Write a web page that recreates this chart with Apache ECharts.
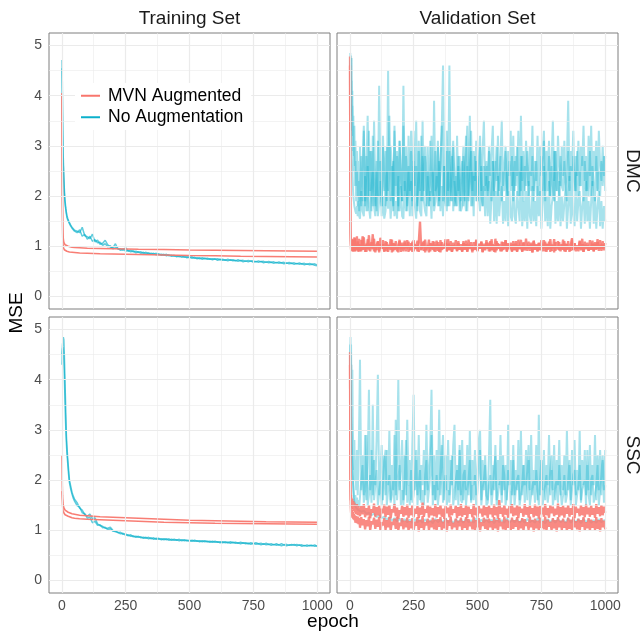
<!DOCTYPE html>
<html><head><meta charset="utf-8">
<script src="https://cdn.jsdelivr.net/npm/echarts@6/dist/echarts.min.js"></script>
<style>html,body{margin:0;padding:0;background:#fff}#c{width:643px;height:634px}</style>
</head><body><div id="c"></div>
<script>
// ---------- tick labels ----------
const X_TICKS = [0, 250, 500, 750, 1000];
const X_MINOR = [125, 375, 625, 875];
const Y_TICKS = [0, 1, 2, 3, 4, 5];
const Y_MINOR = [0.5, 1.5, 2.5, 3.5, 4.5];
const COL_TITLES = ['Training Set', 'Validation Set'];
const ROW_TITLES = ['DMC', 'SSC'];
const GROUPS = ['MVN Augmented', 'No Augmentation'];

// ---------- epochs (x values) ----------
function epochsFrom(head, start, step, end) { const a = head.slice(); for (let e = start; e <= end; e += step) a.push(e); return a; }
const EPOCH_TRAIN_SMOOTH = [1,2,3,4,5,6,8,10,13,16,20,25,30,40,50,70,100,150,200,300,400,500,600,700,800,900,1000];
const EPOCH_TRAIN = epochsFrom([1,2,3,4,5,6,8,10,12,14,16,18,20,23,26,30,35,40,45,50], 60, 10, 1000);
const EPOCH_VAL = epochsFrom([1,2,3,4,5,6,7,8,10,12,14,16,18,20,22,25,28,31,34,37], 40, 5, 1000);

// ---------- Training / DMC ----------
const TRAIN_DMC_MVN_1 = [4.05,2.6,1.8,1.45,1.25,1.15,1.08,1.05,1.03,1.02,1.01,1.0,0.99,0.98,0.975,0.97,0.96,0.955,0.95,0.94,0.935,0.925,0.92,0.915,0.91,0.905,0.90];
const TRAIN_DMC_MVN_2 = [4.05,2.0,1.4,1.15,1.04,0.98,0.95,0.93,0.915,0.905,0.90,0.89,0.885,0.88,0.875,0.865,0.86,0.85,0.845,0.835,0.825,0.815,0.81,0.80,0.795,0.79,0.785];
const TRAIN_DMC_NONE_1 = [4.71,4.3,3.7,3.3,3.0,2.75,2.4,2.15,1.95,1.85,1.75,1.68,1.62,1.56,1.52,1.47,1.42,1.38,1.40,1.32,
1.30,1.27,1.38,1.21,1.19,1.15,1.24,1.09,1.12,1.04,
1.06,1.12,1.03,0.98,0.97,1.05,0.94,0.95,0.92,0.97,
0.90,0.92,0.89,0.90,0.88,0.89,0.86,0.88,0.85,0.86,
0.84,0.86,0.83,0.84,0.82,0.84,0.81,0.82,0.80,0.81,
0.79,0.81,0.78,0.79,0.77,0.79,0.76,0.77,0.75,0.77,
0.75,0.76,0.74,0.75,0.74,0.75,0.73,0.74,0.72,0.74,
0.72,0.73,0.71,0.73,0.71,0.72,0.70,0.72,0.70,0.71,
0.69,0.71,0.69,0.70,0.68,0.70,0.68,0.69,0.67,0.69,
0.67,0.68,0.66,0.68,0.66,0.67,0.65,0.67,0.65,0.66,
0.64,0.66,0.64,0.65,0.63];
const TRAIN_DMC_NONE_2 = [4.55,4.1,3.5,3.1,2.8,2.6,2.3,2.05,1.9,1.8,1.72,1.64,1.58,1.53,1.50,1.45,1.40,1.36,1.34,1.30,
1.27,1.33,1.20,1.24,1.14,1.20,1.10,1.13,1.07,1.08,
1.02,1.05,0.99,1.01,0.95,0.97,0.96,0.92,0.95,0.90,
0.92,0.89,0.91,0.87,0.89,0.86,0.88,0.85,0.87,0.84,
0.86,0.83,0.85,0.82,0.84,0.81,0.83,0.80,0.82,0.79,
0.81,0.78,0.80,0.77,0.79,0.76,0.78,0.75,0.77,0.74,
0.76,0.74,0.75,0.73,0.75,0.72,0.74,0.72,0.73,0.71,
0.73,0.71,0.72,0.70,0.72,0.69,0.71,0.69,0.71,0.68,
0.70,0.68,0.70,0.67,0.69,0.67,0.68,0.66,0.68,0.66,
0.67,0.65,0.67,0.65,0.66,0.64,0.66,0.64,0.65,0.63,
0.65,0.63,0.64,0.62,0.61];

// ---------- Training / SSC ----------
const TRAIN_SSC_MVN_1 = [2.49,1.9,1.7,1.6,1.54,1.5,1.45,1.42,1.40,1.39,1.38,1.36,1.35,1.33,1.32,1.30,1.29,1.27,1.26,1.24,1.22,1.20,1.19,1.18,1.17,1.165,1.16];
const TRAIN_SSC_MVN_2 = [1.78,1.6,1.5,1.44,1.40,1.38,1.35,1.33,1.31,1.30,1.29,1.28,1.27,1.25,1.24,1.23,1.22,1.21,1.20,1.18,1.16,1.15,1.14,1.135,1.13,1.125,1.12];
const TRAIN_SSC_NONE_1 = [4.5,4.6,4.7,4.75,4.8,4.85,4.8,4.5,4.1,3.7,3.3,2.9,2.7,2.45,2.25,2.0,1.88,1.76,1.68,1.62,
1.55,1.44,1.40,1.31,1.28,1.32,1.23,1.25,1.13,1.09,
1.08,1.04,1.04,1.06,1.00,0.97,0.96,0.93,0.94,0.90,
0.91,0.88,0.89,0.86,0.88,0.85,0.86,0.84,0.86,0.83,
0.85,0.82,0.84,0.81,0.83,0.81,0.83,0.80,0.82,0.80,
0.82,0.79,0.81,0.79,0.80,0.78,0.80,0.78,0.79,0.77,
0.79,0.77,0.78,0.76,0.78,0.76,0.77,0.75,0.77,0.75,
0.77,0.75,0.76,0.74,0.76,0.74,0.75,0.73,0.75,0.73,
0.75,0.73,0.74,0.72,0.74,0.72,0.73,0.71,0.73,0.71,
0.73,0.71,0.72,0.70,0.72,0.70,0.72,0.70,0.71,0.69,
0.71,0.69,0.70,0.68,0.69];
const TRAIN_SSC_NONE_2 = [4.3,4.5,4.6,4.65,4.67,4.6,4.4,4.1,3.7,3.3,3.0,2.75,2.55,2.35,2.15,1.95,1.82,1.72,1.64,1.58,
1.49,1.46,1.35,1.33,1.24,1.26,1.15,1.18,1.10,1.11,
1.05,1.06,1.01,1.03,0.98,0.99,0.95,0.96,0.92,0.93,
0.89,0.91,0.87,0.88,0.86,0.87,0.84,0.86,0.83,0.85,
0.82,0.84,0.82,0.83,0.81,0.83,0.80,0.82,0.80,0.81,
0.79,0.81,0.79,0.80,0.78,0.80,0.78,0.79,0.77,0.79,
0.77,0.78,0.76,0.78,0.76,0.77,0.75,0.77,0.75,0.76,
0.74,0.76,0.74,0.75,0.73,0.75,0.73,0.74,0.72,0.74,
0.72,0.73,0.71,0.73,0.71,0.72,0.70,0.72,0.70,0.71,
0.69,0.71,0.69,0.71,0.70,0.72,0.69,0.71,0.68,0.70,
0.68,0.70,0.69,0.71,0.68];

// ---------- Validation / DMC (20 head values, then every 5 epochs from 40) ----------
const VAL_DMC_MVN_1 = [4.78,2.2,1.3,1.1,1.02,0.95,1.12,0.92,1.15,0.9,1.08,0.95,1.18,0.9,1.1,0.94,1.2,0.91,1.06,1.15,
0.9,1.12,0.93,1.18,0.89,1.05,0.95,1.22,0.9,1.08,0.94,1.15,0.88,1.02,1.1,0.91,1.17,0.95,1.04,0.89,
1.1,0.9,1.03,0.96,1.14,0.88,1.06,0.93,1.1,0.9,1.01,1.13,0.89,1.07,0.94,1.11,0.9,1.0,1.09,0.92,
1.06,0.89,1.12,0.95,1.02,0.9,1.08,1.5,0.92,1.04,1.1,0.88,1.0,0.96,1.13,0.9,1.05,0.93,1.09,0.89,
1.11,0.91,1.03,0.88,1.08,0.95,1.0,1.14,0.9,1.05,0.93,1.1,0.89,1.02,0.96,1.12,0.9,1.06,0.94,1.0,
0.89,1.1,0.93,1.04,0.9,1.13,0.95,1.01,0.88,1.08,0.94,1.11,0.91,1.03,0.96,1.09,0.89,1.05,0.92,1.12,
0.95,1.07,0.9,1.14,0.92,1.02,0.88,1.1,0.96,1.04,0.9,1.09,0.93,1.0,1.12,0.89,1.06,0.94,1.03,0.91,
1.1,0.92,1.05,0.89,1.13,0.95,1.01,0.9,1.08,0.94,1.15,0.91,1.02,0.96,1.07,0.88,1.11,0.93,1.04,0.9,
1.06,0.93,1.12,0.9,1.0,1.09,0.89,1.04,0.95,1.14,0.91,1.03,0.88,1.08,0.96,1.1,0.92,1.01,0.94,1.13,
0.9,1.05,0.93,1.1,0.89,1.02,1.16,0.92,1.06,0.95,1.0,0.9,1.11,0.94,1.04,0.89,1.09,0.96,1.02,0.91,
1.12,0.93,1.05,0.9,1.08,0.95,1.14,0.91,1.03,0.96,1.1,0.92,1.06];
const VAL_DMC_MVN_2 = [4.6,1.9,1.2,1.0,0.93,1.1,0.9,1.05,0.92,1.13,0.89,1.06,0.94,1.16,0.9,1.03,0.93,1.1,0.89,1.04,
1.06,0.9,1.2,0.94,1.02,0.89,1.14,0.92,1.05,0.96,1.24,0.9,1.01,0.93,1.09,0.88,1.04,0.95,1.12,0.91,
0.96,1.08,0.89,1.02,0.93,1.13,0.9,1.05,0.95,1.0,0.88,1.1,0.94,1.03,0.9,1.07,0.96,1.12,0.89,1.01,
0.93,1.09,0.9,1.04,0.95,1.11,0.89,1.0,0.94,1.07,0.91,1.13,0.92,1.02,0.88,1.06,0.95,1.1,0.9,1.03,
0.94,1.08,0.89,1.12,0.93,1.0,0.96,1.06,0.9,1.14,0.92,1.02,0.89,1.07,0.95,1.01,0.91,1.1,0.93,1.04,
0.9,1.06,0.94,1.11,0.89,1.03,0.96,1.08,0.91,1.0,0.93,1.13,0.9,1.05,0.95,1.09,0.88,1.02,0.94,1.07,
1.01,0.9,1.1,0.93,1.04,0.89,1.15,0.92,1.06,0.95,1.0,0.9,1.08,0.94,1.12,0.91,1.03,0.96,1.07,0.89,
1.04,0.93,1.1,0.9,1.02,0.95,1.13,0.89,1.06,0.92,1.0,0.96,1.09,0.91,1.04,0.88,1.11,0.94,1.02,0.9,
1.07,0.92,1.01,0.95,1.12,0.9,1.05,0.93,1.09,0.89,1.03,0.96,1.14,0.91,1.0,0.94,1.08,0.9,1.04,0.93,
1.1,0.89,1.04,0.95,1.0,0.91,1.13,0.93,1.06,0.9,1.02,0.96,1.09,0.92,1.15,0.89,1.03,0.94,1.07,0.91,
1.0,0.94,1.11,0.9,1.05,0.93,1.08,0.95,1.12,0.91,1.03,0.96,1.06];
const VAL_DMC_NONE_1 = [4.0,4.85,4.5,4.2,4.8,3.9,4.3,3.6,4.1,3.2,3.6,2.8,3.4,2.6,3.1,2.2,2.9,2.0,2.7,1.9,
3.0,1.8,2.6,3.4,1.9,2.8,1.7,3.3,2.1,2.9,1.8,3.5,2.2,1.7,3.1,2.0,2.7,1.8,3.2,2.3,
1.8,3.0,2.1,3.6,1.9,2.6,1.7,3.3,2.2,2.9,1.8,3.1,2.4,1.9,3.4,2.0,2.8,1.7,3.2,2.1,
2.9,1.8,3.3,2.0,2.6,1.7,3.1,2.3,1.9,3.5,2.1,2.8,1.8,3.0,2.2,1.9,3.2,2.4,1.8,2.9,
2.0,3.1,1.8,2.7,3.4,1.9,2.6,2.0,3.3,1.8,2.9,2.2,1.9,3.0,2.4,1.8,3.2,2.1,2.8,1.9,
2.5,3.0,1.9,2.8,3.4,2.0,2.6,3.3,2.1,2.9,2.3,3.1,1.9,2.7,3.2,2.1,2.9,3.5,2.2,2.6,
2.1,3.0,2.4,2.9,3.4,2.0,2.7,2.3,3.2,2.1,2.8,3.5,2.2,2.6,3.0,2.0,2.9,2.4,3.3,2.2,
3.2,2.1,2.8,2.4,3.3,2.0,3.6,2.3,2.9,2.1,3.1,2.5,2.2,3.0,2.4,3.4,2.1,2.7,2.3,3.2,
2.2,3.0,2.4,2.8,3.3,2.1,2.9,2.5,3.1,2.0,2.7,3.5,2.3,2.9,2.1,3.2,2.6,2.2,3.0,2.4,
3.1,2.2,2.7,3.9,2.3,2.9,2.5,3.3,2.1,2.8,2.4,3.1,2.2,3.0,2.6,3.4,2.3,2.8,2.1,3.2,
2.4,3.4,2.2,2.9,2.5,3.1,2.1,3.3,2.6,2.3,3.0,2.4,2.8];
const VAL_DMC_NONE_2 = [4.4,4.7,4.3,4.6,3.9,4.2,4.75,3.3,3.8,2.9,3.4,2.5,3.0,2.2,2.7,1.9,2.5,1.8,2.3,1.7,
1.7,2.8,1.9,3.3,1.8,2.5,3.6,2.0,2.9,1.7,3.2,2.2,1.8,2.7,2.0,4.2,2.3,1.8,3.0,2.1,
2.9,1.9,4.5,2.1,3.0,2.6,1.8,3.4,2.0,2.8,1.7,3.1,2.3,1.9,4.2,2.1,3.0,1.8,2.6,2.0,
3.3,1.9,2.7,2.2,3.5,1.8,2.9,2.1,3.2,1.9,2.6,3.0,2.0,2.5,1.8,3.1,2.2,2.0,3.9,2.1,
2.2,3.0,1.9,2.6,3.3,4.6,2.2,1.8,2.9,2.1,4.6,1.9,2.7,3.1,1.8,2.4,2.0,2.8,1.7,2.3,
2.7,1.8,2.4,3.2,1.7,2.3,3.6,1.8,2.5,1.6,2.8,1.9,2.4,2.0,1.7,2.6,1.8,2.2,1.6,2.4,
1.6,2.3,1.45,2.0,2.7,1.5,2.1,1.45,2.4,1.6,2.0,2.2,1.45,1.9,1.5,2.5,1.4,2.1,1.6,1.5,
2.5,1.6,1.45,2.1,1.8,1.5,2.8,1.4,1.9,1.5,2.1,1.35,2.3,1.6,1.45,2.2,1.5,1.9,1.4,2.2,
1.6,2.1,1.35,1.9,2.6,1.5,2.0,1.4,2.3,1.35,1.8,2.0,2.9,1.45,1.9,1.5,2.3,1.4,2.0,1.5,
1.5,2.2,1.35,1.8,2.4,1.45,2.0,1.6,1.4,2.5,1.5,1.9,2.1,1.35,1.8,2.0,1.45,2.3,1.5,1.9,
1.35,1.9,2.3,1.45,2.0,1.35,1.8,2.1,1.4,1.9,1.35,1.8,1.5];
const VAL_DMC_NONE_3 = [3.8,4.5,4.0,3.6,3.3,3.0,2.8,2.7,2.4,2.2,2.0,1.9,1.8,1.75,1.7,1.65,1.8,1.6,1.9,1.6,
1.55,2.1,1.7,1.6,2.4,1.7,2.6,1.8,1.55,2.2,2.5,1.8,1.6,2.5,1.6,1.9,2.3,1.6,2.0,1.55,
1.7,2.5,1.75,2.1,1.55,2.0,2.7,1.6,1.9,1.55,2.4,1.7,2.2,1.6,1.55,2.3,1.7,2.0,2.5,1.6,
2.3,1.6,2.6,1.8,1.55,2.1,2.5,1.7,1.6,2.8,1.9,1.7,1.6,2.4,1.8,2.1,1.55,2.5,1.7,1.9,
2.4,1.8,2.7,1.7,2.2,1.6,2.6,1.9,1.7,2.5,1.8,2.2,2.8,1.7,2.3,1.9,1.8,2.6,2.0,1.7,
1.8,2.8,2.0,1.7,2.6,1.9,2.3,2.9,1.8,2.4,2.0,2.7,1.9,2.2,3.0,2.0,1.8,2.6,2.1,2.7,
2.0,2.9,2.2,1.9,2.7,2.1,2.5,3.0,2.0,2.3,2.8,1.9,2.5,2.1,2.9,2.2,2.0,2.7,2.1,2.8,
1.9,2.7,2.2,3.0,2.0,2.5,2.1,2.8,1.9,2.6,2.2,2.9,2.0,2.5,2.1,2.8,1.9,2.3,2.7,2.0,
2.2,2.0,2.8,2.1,3.1,1.9,2.5,2.1,2.8,2.0,2.6,2.2,1.9,2.9,2.1,2.5,2.0,2.8,2.2,2.1,
2.7,2.2,1.9,2.9,2.1,2.6,2.0,2.8,2.3,2.1,2.9,2.0,2.5,2.2,2.8,1.9,2.7,2.1,2.5,2.0,
2.9,2.0,2.6,2.2,1.9,2.8,2.1,2.5,2.0,2.7,2.2,2.8,2.1];

// ---------- Validation / SSC ----------
const VAL_SSC_MVN_1 = [4.55,2.5,1.8,1.6,1.7,1.5,1.65,1.45,1.62,1.42,1.58,1.38,1.55,1.35,1.5,1.32,1.52,1.3,1.48,1.36,
1.28,1.48,1.32,1.52,1.26,1.44,1.3,1.5,1.24,1.42,1.35,1.53,1.27,1.46,1.3,1.49,1.25,1.43,1.34,1.51,
1.26,1.47,1.31,1.5,1.24,1.42,1.36,1.52,1.28,1.45,1.23,1.4,1.33,1.49,1.27,1.46,1.3,1.51,1.25,1.44,
1.3,1.5,1.26,1.43,1.33,1.48,1.24,1.45,1.31,1.55,1.27,1.42,1.35,1.5,1.25,1.47,1.3,1.44,1.28,1.52,
1.25,1.46,1.32,1.5,1.27,1.43,1.23,1.48,1.34,1.45,1.26,1.51,1.3,1.42,1.35,1.49,1.24,1.46,1.29,1.52,
1.27,1.44,1.31,1.5,1.24,1.47,1.33,1.42,1.26,1.52,1.3,1.45,1.25,1.48,1.34,1.43,1.27,1.5,1.3,1.46,
1.24,1.49,1.32,1.44,1.26,1.51,1.3,1.46,1.23,1.6,1.33,1.45,1.27,1.5,1.31,1.43,1.25,1.48,1.34,1.52,
1.28,1.45,1.3,1.5,1.24,1.47,1.35,1.43,1.27,1.52,1.31,1.46,1.25,1.49,1.33,1.44,1.26,1.51,1.29,1.47,
1.23,1.48,1.32,1.45,1.27,1.52,1.3,1.44,1.25,1.5,1.34,1.47,1.28,1.43,1.31,1.53,1.26,1.46,1.3,1.49,
1.25,1.45,1.33,1.5,1.27,1.44,1.31,1.52,1.24,1.47,1.35,1.43,1.28,1.5,1.3,1.46,1.26,1.51,1.32,1.45,
1.27,1.49,1.31,1.44,1.25,1.52,1.33,1.46,1.28,1.5,1.3,1.47,1.35];
const VAL_SSC_MVN_2 = [4.3,2.2,1.6,1.45,1.35,1.45,1.3,1.4,1.25,1.36,1.22,1.33,1.2,1.3,1.15,1.28,1.14,1.27,1.12,1.25,
1.05,1.26,1.1,1.22,1.02,1.2,1.08,1.27,1.0,1.18,1.12,1.25,1.03,1.21,1.07,1.26,1.0,1.16,1.1,1.24,
1.01,1.2,1.06,1.26,0.99,1.17,1.11,1.23,1.03,1.27,1.0,1.15,1.09,1.24,1.02,1.19,1.06,1.25,0.99,1.18,
1.04,1.24,1.0,1.17,1.09,1.26,0.98,1.2,1.05,1.28,1.01,1.16,1.1,1.23,1.0,1.19,1.06,1.25,1.02,1.21,
0.99,1.22,1.07,1.26,1.01,1.17,1.04,1.24,0.98,1.2,1.09,1.27,1.02,1.15,1.06,1.23,1.0,1.19,1.08,1.25,
1.01,1.18,1.05,1.26,0.99,1.22,1.08,1.17,1.02,1.27,1.0,1.2,1.06,1.24,0.98,1.16,1.09,1.25,1.03,1.21,
0.99,1.23,1.06,1.18,1.01,1.26,1.04,1.2,0.98,1.24,1.08,1.17,1.02,1.27,1.0,1.21,1.05,1.19,0.99,1.25,
1.03,1.2,1.07,1.26,1.0,1.18,1.04,1.24,0.99,1.22,1.09,1.16,1.01,1.27,1.06,1.2,0.98,1.23,1.04,1.19,
1.0,1.25,1.05,1.18,1.02,1.27,0.99,1.21,1.07,1.17,1.0,1.24,1.04,1.2,0.98,1.26,1.06,1.19,1.01,1.23,
1.05,1.17,0.99,1.25,1.03,1.21,1.0,1.27,1.06,1.18,1.02,1.23,0.98,1.2,1.07,1.26,1.0,1.16,1.04,1.24,
0.99,1.21,1.05,1.18,1.01,1.26,1.03,1.2,0.98,1.24,1.06,1.19,1.02];
const VAL_SSC_NONE_1 = [3.5,4.6,4.85,4.4,4.7,4.0,4.3,3.6,4.2,3.0,2.6,2.2,2.8,2.0,2.4,1.8,2.6,1.7,2.2,3.2,
4.4,1.8,2.5,1.7,2.9,1.6,2.3,3.8,1.8,2.6,1.7,2.4,1.9,2.8,4.1,1.7,2.2,2.7,1.6,2.5,
1.7,2.6,1.9,3.0,1.6,2.3,1.8,2.9,1.7,2.4,4.0,1.8,2.2,2.8,1.6,2.5,1.7,3.2,1.9,2.4,
1.6,2.7,3.7,1.8,2.4,1.7,2.9,1.6,2.3,1.9,2.6,1.7,3.1,1.8,2.2,2.7,3.8,1.7,2.5,1.6,
2.6,1.8,3.4,1.7,2.3,2.9,1.6,2.5,1.8,2.8,1.7,2.4,1.9,2.7,3.1,1.6,2.3,1.8,2.6,1.7,
2.8,1.6,2.3,1.8,2.7,1.7,3.0,1.6,2.4,1.9,2.6,1.7,2.2,2.8,3.0,1.6,2.4,1.8,2.5,1.7,
1.6,2.5,3.6,1.7,2.3,1.8,2.7,1.6,2.4,1.9,2.9,1.7,2.5,1.8,2.3,1.6,3.1,1.9,2.4,1.7,
2.7,1.7,2.2,1.8,2.8,1.6,3.0,1.7,2.3,1.9,2.6,1.6,2.4,1.8,2.9,1.7,2.2,1.9,2.7,1.6,
3.3,1.7,2.4,1.8,2.6,1.6,2.3,1.9,2.9,1.7,2.2,1.8,2.7,1.6,2.4,1.9,2.8,1.7,2.3,1.8,
2.5,1.7,3.0,1.8,2.3,1.6,2.6,1.9,2.8,1.7,2.2,1.8,3.0,1.6,2.4,1.9,2.6,1.7,2.3,1.8,
2.7,1.7,2.3,1.9,2.9,1.6,2.5,1.8,2.6,1.7,2.4,1.8,2.6];
const VAL_SSC_NONE_2 = [4.2,4.7,4.3,3.9,3.5,3.1,2.9,2.7,2.4,2.1,1.9,1.7,1.6,1.55,1.7,1.5,1.65,1.48,1.6,1.47,
1.5,2.0,2.3,1.55,1.8,2.9,1.5,1.7,2.1,1.55,3.5,1.6,1.9,2.2,1.5,1.75,2.0,1.5,1.9,2.4,
2.6,1.5,1.8,2.1,1.55,1.7,2.0,1.5,3.2,1.6,2.0,2.3,1.5,1.8,1.5,2.0,2.8,1.55,1.9,1.5,
2.2,1.55,1.7,2.0,2.6,1.5,1.9,2.2,1.55,1.8,1.5,2.1,2.4,1.55,1.8,2.1,2.9,1.5,1.9,1.6,
2.1,1.5,1.75,2.2,2.7,1.55,1.9,2.1,1.5,1.8,1.55,2.0,2.5,1.5,1.75,2.0,2.2,1.5,2.7,1.6,
1.55,2.1,2.2,1.5,1.8,2.0,2.4,1.55,1.9,1.6,2.1,1.5,1.8,2.2,2.6,1.5,1.85,2.0,2.3,1.5,
1.55,1.9,2.1,1.5,1.8,2.2,2.5,1.5,1.7,1.9,2.0,1.55,2.3,2.1,1.5,1.7,2.2,1.9,1.5,1.8,
2.4,1.5,1.8,2.0,2.1,1.5,1.7,1.9,2.3,1.55,1.9,2.2,2.7,1.5,1.7,1.9,2.0,1.55,2.2,1.8,
1.5,2.0,2.4,1.5,1.75,1.9,2.1,1.55,1.8,2.2,2.5,1.5,1.7,1.9,2.0,1.55,2.3,1.8,1.5,1.7,
2.1,1.55,1.7,2.0,2.4,1.5,1.8,2.1,2.2,1.5,1.7,1.9,2.3,1.55,1.8,1.9,2.0,1.5,2.6,1.7,
1.5,2.0,2.1,1.55,1.7,1.9,2.3,1.5,1.8,2.1,2.5,1.55,1.9];
const VAL_SSC_NONE_3 = [4.0,4.5,4.1,3.6,3.2,2.9,2.7,2.5,2.2,2.0,1.8,1.65,1.55,1.5,1.47,1.45,1.43,1.42,1.40,1.41,
1.40,1.37,1.36,1.39,1.38,1.33,1.32,1.35,1.35,1.30,1.29,1.33,1.31,1.26,1.27,1.30,1.30,1.24,1.24,1.27,
1.27,1.21,1.22,1.26,1.25,1.19,1.20,1.24,1.24,1.18,1.18,1.23,1.23,1.17,1.19,1.22,1.22,1.16,1.17,1.21,
1.21,1.15,1.18,1.22,1.23,1.16,1.17,1.21,1.20,1.15,1.17,1.22,1.22,1.15,1.16,1.20,1.21,1.14,1.18,1.23,
1.23,1.16,1.17,1.21,1.20,1.15,1.17,1.24,1.24,1.15,1.16,1.20,1.21,1.14,1.18,1.22,1.22,1.16,1.17,1.21,
1.20,1.15,1.17,1.23,1.23,1.16,1.16,1.20,1.21,1.15,1.18,1.24,1.24,1.15,1.17,1.21,1.20,1.16,1.17,1.22,
1.22,1.15,1.16,1.21,1.21,1.14,1.18,1.23,1.23,1.16,1.17,1.20,1.20,1.15,1.17,1.24,1.24,1.15,1.16,1.21,
1.21,1.16,1.18,1.22,1.22,1.15,1.17,1.21,1.20,1.15,1.17,1.23,1.23,1.16,1.16,1.20,1.21,1.15,1.18,1.24,
1.24,1.15,1.16,1.20,1.20,1.14,1.17,1.22,1.22,1.16,1.17,1.21,1.21,1.15,1.18,1.23,1.23,1.16,1.16,1.20,
1.20,1.15,1.17,1.24,1.24,1.15,1.16,1.21,1.22,1.16,1.17,1.22,1.21,1.14,1.18,1.23,1.22,1.16,1.17,1.21,
1.23,1.15,1.16,1.20,1.21,1.15,1.18,1.22,1.22,1.16,1.17,1.20,1.20];

// ---------- styling ----------
const RED = '#F8766D', BLUE = '#0BB0CB';
const FONT = 'Liberation Sans';
const GRIDS = [
  {left: 49, top: 33, width: 281, height: 276},
  {left: 337, top: 33, width: 281, height: 276},
  {left: 49, top: 317, width: 281, height: 276},
  {left: 337, top: 317, width: 281, height: 276}
];

function zip(xs, ys) { return xs.map((x, i) => [x, ys[i]]); }
function runLine(name, gi, xs, ys, color, opacity, width, z) {
  return {type: 'line', name, xAxisIndex: gi, yAxisIndex: gi, data: zip(xs, ys),
    showSymbol: false, symbol: 'none', silent: true, animation: false, z,
    lineStyle: {color, opacity, width, join: 'bevel'}, itemStyle: {color}, emphasis: {disabled: true}};
}
function gridLines(gi) {
  const ml = [];
  X_MINOR.forEach(v => ml.push({xAxis: v, lineStyle: {color: '#EBEBEB', width: 0.6, type: 'solid'}}));
  Y_MINOR.forEach(v => ml.push({yAxis: v, lineStyle: {color: '#EBEBEB', width: 0.6, type: 'solid'}}));
  X_TICKS.forEach(v => ml.push({xAxis: v, lineStyle: {color: '#EBEBEB', width: 1.2, type: 'solid'}}));
  Y_TICKS.forEach(v => ml.push({yAxis: v, lineStyle: {color: '#EBEBEB', width: 1.2, type: 'solid'}}));
  return {type: 'line', xAxisIndex: gi, yAxisIndex: gi, data: [[-1000, -100]], silent: true, z: 1,
    showSymbol: false, lineStyle: {opacity: 0}, animation: false,
    markLine: {silent: true, symbol: ['none', 'none'], animation: false, label: {show: false},
      emphasis: {disabled: true}, lineStyle: {type: 'solid'}, data: ml}};
}

const xAxes = GRIDS.map((g, i) => ({
  gridIndex: i, type: 'value', min: -50, max: 1050,
  axisLine: {show: false}, splitLine: {show: false},
  axisTick: {show: i >= 2, customValues: X_TICKS, length: 4, lineStyle: {color: '#333333', width: 1}},
  axisLabel: {show: i >= 2, customValues: X_TICKS, formatter: v => String(v), fontSize: 14, color: '#4D4D4D', margin: 6, fontFamily: FONT}
}));
const yAxes = GRIDS.map((g, i) => ({
  gridIndex: i, type: 'value', min: -0.25, max: 5.25,
  axisLine: {show: false}, splitLine: {show: false},
  axisTick: {show: i % 2 === 0, customValues: Y_TICKS, length: 4, lineStyle: {color: '#333333', width: 1}},
  axisLabel: {show: i % 2 === 0, customValues: Y_TICKS, fontSize: 14, color: '#4D4D4D', margin: 7, fontFamily: FONT}
}));

const VB_W = 2.0, VB_A = 0.36, VR_W = 2.3, VR_A = 0.85;
const series = [0, 1, 2, 3].map(gridLines);
// Training DMC
series.push(runLine(GROUPS[1], 0, EPOCH_TRAIN, TRAIN_DMC_NONE_1, BLUE, 0.65, 1.5, 3));
series.push(runLine(GROUPS[1], 0, EPOCH_TRAIN, TRAIN_DMC_NONE_2, BLUE, 0.65, 1.5, 3));
series.push(runLine(GROUPS[0], 0, EPOCH_TRAIN_SMOOTH, TRAIN_DMC_MVN_1, RED, 0.95, 1.6, 4));
series.push(runLine(GROUPS[0], 0, EPOCH_TRAIN_SMOOTH, TRAIN_DMC_MVN_2, RED, 0.95, 1.6, 4));
// Validation DMC
series.push(runLine(GROUPS[1], 1, EPOCH_VAL, VAL_DMC_NONE_2, BLUE, VB_A, VB_W, 3));
series.push(runLine(GROUPS[1], 1, EPOCH_VAL, VAL_DMC_NONE_1, BLUE, VB_A, VB_W, 3));
series.push(runLine(GROUPS[1], 1, EPOCH_VAL, VAL_DMC_NONE_3, BLUE, VB_A, VB_W, 3));
series.push(runLine(GROUPS[0], 1, EPOCH_VAL, VAL_DMC_MVN_1, RED, VR_A, VR_W, 4));
series.push(runLine(GROUPS[0], 1, EPOCH_VAL, VAL_DMC_MVN_2, RED, VR_A, VR_W, 4));
// Training SSC
series.push(runLine(GROUPS[1], 2, EPOCH_TRAIN, TRAIN_SSC_NONE_1, BLUE, 0.65, 1.5, 3));
series.push(runLine(GROUPS[1], 2, EPOCH_TRAIN, TRAIN_SSC_NONE_2, BLUE, 0.65, 1.5, 3));
series.push(runLine(GROUPS[0], 2, EPOCH_TRAIN_SMOOTH, TRAIN_SSC_MVN_1, RED, 0.95, 1.6, 4));
series.push(runLine(GROUPS[0], 2, EPOCH_TRAIN_SMOOTH, TRAIN_SSC_MVN_2, RED, 0.95, 1.6, 4));
// Validation SSC
series.push(runLine(GROUPS[1], 3, EPOCH_VAL, VAL_SSC_NONE_3, BLUE, VB_A, VB_W, 3));
series.push(runLine(GROUPS[1], 3, EPOCH_VAL, VAL_SSC_NONE_2, BLUE, VB_A, VB_W, 3));
series.push(runLine(GROUPS[1], 3, EPOCH_VAL, VAL_SSC_NONE_1, BLUE, VB_A, VB_W, 3));
series.push(runLine(GROUPS[0], 3, EPOCH_VAL, VAL_SSC_MVN_1, RED, VR_A, VR_W, 4));
series.push(runLine(GROUPS[0], 3, EPOCH_VAL, VAL_SSC_MVN_2, RED, VR_A, VR_W, 4));

const txt = (text, x, y, size, fill, rotation) => ({type: 'text', x, y, rotation: rotation || 0, silent: true, z: 10,
  style: {text, fontSize: size, fill, fontFamily: FONT, align: 'center', verticalAlign: 'middle'}});

const chart = echarts.init(document.getElementById('c'), null, {renderer: 'canvas'});
chart.setOption({
  animation: false,
  backgroundColor: '#ffffff',
  grid: GRIDS.map(g => Object.assign({show: true, borderColor: '#7F7F7F', borderWidth: 1, backgroundColor: 'transparent', containLabel: false}, g)),
  xAxis: xAxes,
  yAxis: yAxes,
  legend: {
    show: true, orient: 'vertical', left: 75, top: 83, padding: [2, 8, 2, 6], itemGap: 0,
    backgroundColor: '#ffffff', z: 8,
    itemWidth: 19, itemHeight: 2, icon: 'rect', selectedMode: false,
    textStyle: {fontSize: 17.5, lineHeight: 21.5, color: '#000000', fontFamily: FONT, padding: [0, 0, 0, 3]},
    data: [{name: GROUPS[0], itemStyle: {color: RED, opacity: 1}}, {name: GROUPS[1], itemStyle: {color: BLUE, opacity: 1}}]
  },
  graphic: [
    txt(COL_TITLES[0], 189.5, 19, 19, '#1A1A1A'),
    txt(COL_TITLES[1], 477.5, 19, 19, '#1A1A1A'),
    txt(ROW_TITLES[0], 632, 171, 19, '#1A1A1A', -Math.PI / 2),
    txt(ROW_TITLES[1], 632, 455, 19, '#1A1A1A', -Math.PI / 2),
    txt('MSE', 17, 313, 19, '#000000', Math.PI / 2),
    txt('epoch', 333, 622, 19, '#000000')
  ],
  series
});
</script></body></html>
